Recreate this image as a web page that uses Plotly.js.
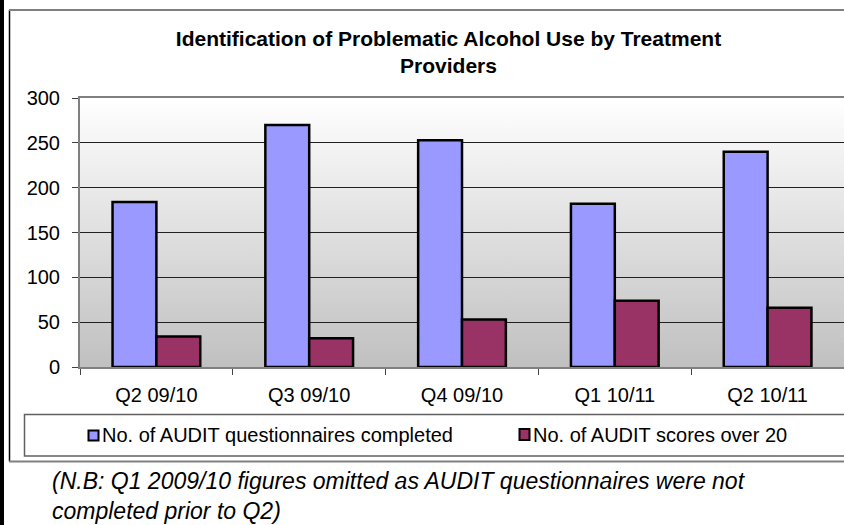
<!DOCTYPE html>
<html>
<head>
<meta charset="utf-8">
<script src="https://cdn.plot.ly/plotly-3.0.1.min.js"></script>
<style>
  html, body { margin: 0; padding: 0; background: #ffffff; overflow: hidden; }
  #chart { width: 844px; height: 525px; }
</style>
</head>
<body>
<div id="chart"></div>
<script>
// ---- data ----
const categories = ['Q2 09/10', 'Q3 09/10', 'Q4 09/10', 'Q1 10/11', 'Q2 10/11'];
const completedValues = [184, 270, 253, 182, 240];
const over20Values = [34, 32, 53, 74, 66];
const seriesNames = ['No. of AUDIT questionnaires completed', 'No. of AUDIT scores over 20'];
const yTickValues = [0, 50, 100, 150, 200, 250, 300];
const titleText = 'Identification of Problematic Alcohol Use by Treatment<br>Providers';
const footnoteText = '(N.B: Q1 2009/10 figures omitted as AUDIT questionnaires were not<br>completed prior to Q2)';

// ---- styling / layout helpers ----
const FONT = 'Liberation Sans, Arial, sans-serif';
const BLUE = '#9999FF';
const PLUM = '#993366';
const L = 80, W = 764, T = 98, H = 269, B = T + H;
const px = x => (x - L) / W;
const py = y => (B - y) / H;

const gradSvg = "<svg xmlns='http://www.w3.org/2000/svg' width='10' height='100' viewBox='0 0 10 100' preserveAspectRatio='none'>" +
  "<defs><linearGradient id='g' x1='0' y1='0' x2='0' y2='1'>" +
  "<stop offset='0' stop-color='#ffffff'/><stop offset='1' stop-color='#c0c0c0'/>" +
  "</linearGradient></defs><rect x='0' y='0' width='10' height='100' fill='url(#g)'/></svg>";
const gradUri = 'data:image/svg+xml;charset=utf-8,' + encodeURIComponent(gradSvg);

const traces = [
  {
    type: 'bar', x: categories, y: completedValues, name: seriesNames[0],
    marker: { color: BLUE, line: { color: '#000000', width: 2.5 } },
    hoverinfo: 'x+y'
  },
  {
    type: 'bar', x: categories, y: over20Values, name: seriesNames[1],
    marker: { color: PLUM, line: { color: '#000000', width: 2.5 } },
    hoverinfo: 'x+y'
  }
];

const layout = {
  width: 844, height: 525,
  margin: { l: L, r: 844 - L - W, t: T, b: 525 - B, pad: 0 },
  paper_bgcolor: '#ffffff',
  plot_bgcolor: 'rgba(0,0,0,0)',
  showlegend: false,
  barmode: 'group',
  bargap: 0.426,
  bargroupgap: 0,
  font: { family: FONT, color: '#000000', size: 20 },
  title: {
    text: titleText,
    font: { family: FONT, size: 21, color: '#000000', weight: 'bold' },
    xref: 'container', x: 448.5 / 844, xanchor: 'center',
    yref: 'container', y: 1 - 46 / 525, yanchor: 'top'
  },
  xaxis: {
    type: 'category',
    showline: true, linecolor: '#808080', linewidth: 2, mirror: true,
    ticks: 'outside', tickson: 'boundaries', ticklen: 6, tickcolor: '#404040', tickwidth: 1,
    ticklabelstandoff: 9,
    tickfont: { family: FONT, size: 20, color: '#000000' },
    showgrid: false, zeroline: false, fixedrange: true
  },
  yaxis: {
    range: [0, 300], tickvals: yTickValues, ticktext: yTickValues.map(String),
    showline: true, linecolor: '#808080', linewidth: 2,
    ticks: 'outside', ticklen: 6, tickcolor: '#404040', tickwidth: 1,
    ticklabelstandoff: 8,
    tickfont: { family: FONT, size: 20, color: '#000000' },
    showgrid: true, gridcolor: '#202020', gridwidth: 1,
    zeroline: false, fixedrange: true
  },
  images: [{
    source: gradUri, xref: 'paper', yref: 'paper',
    x: 0, y: 1, sizex: 1, sizey: 1, xanchor: 'left', yanchor: 'top',
    sizing: 'stretch', layer: 'below'
  }],
  shapes: [
    // page left border
    { type: 'rect', xref: 'paper', yref: 'paper', x0: px(0), x1: px(4), y0: py(530), y1: py(-5),
      fillcolor: '#000000', line: { width: 0 } },
    // chart frame
    { type: 'line', xref: 'paper', yref: 'paper', x0: px(9.5), x1: px(9.5), y0: py(10), y1: py(461.5),
      line: { color: '#000000', width: 1.5 } },
    { type: 'line', xref: 'paper', yref: 'paper', x0: px(9), x1: px(860), y0: py(10), y1: py(10),
      line: { color: '#808080', width: 2 } },
    { type: 'line', xref: 'paper', yref: 'paper', x0: px(9), x1: px(860), y0: py(461.5), y1: py(461.5),
      line: { color: '#808080', width: 2 } },
    // legend box
    { type: 'rect', xref: 'paper', yref: 'paper', x0: px(24.5), x1: px(870), y0: py(414.5), y1: py(456),
      fillcolor: '#ffffff', line: { color: '#606060', width: 1.5 } },
    // legend swatches
    { type: 'rect', xref: 'paper', yref: 'paper', x0: px(88.5), x1: px(98.5), y0: py(430.5), y1: py(440.5),
      fillcolor: BLUE, line: { color: '#000000', width: 2 } },
    { type: 'rect', xref: 'paper', yref: 'paper', x0: px(519.5), x1: px(529.5), y0: py(429), y1: py(440),
      fillcolor: PLUM, line: { color: '#000000', width: 2 } }
  ],
  annotations: [
    { xref: 'paper', yref: 'paper', x: px(100), y: py(435.5), xanchor: 'left', yanchor: 'middle',
      text: seriesNames[0], showarrow: false, font: { family: FONT, size: 20, color: '#000000' } },
    { xref: 'paper', yref: 'paper', x: px(531), y: py(435.5), xanchor: 'left', yanchor: 'middle',
      text: seriesNames[1], showarrow: false, font: { family: FONT, size: 20, color: '#000000' } },
    { xref: 'paper', yref: 'paper', x: px(50), y: py(496), xanchor: 'left', yanchor: 'middle', align: 'left',
      text: '<i>' + footnoteText + '</i>', showarrow: false, font: { family: FONT, size: 23, color: '#000000' } }
  ]
};

Plotly.newPlot('chart', traces, layout, { displayModeBar: false, staticPlot: true });
</script>
</body>
</html>
